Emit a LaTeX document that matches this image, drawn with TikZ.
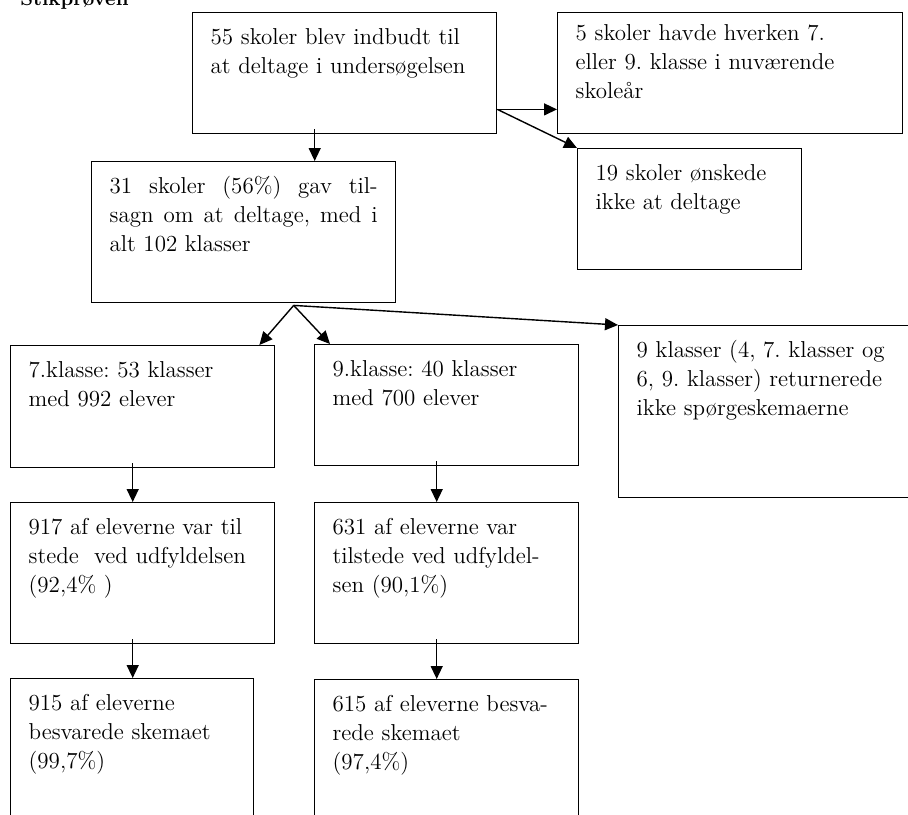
\documentclass[tikz,border=0pt]{standalone}
\usepackage{tikz}
\usetikzlibrary{arrows.meta, calc}
\tikzset{>={Triangle[length=6.5pt, width=6pt]}}
\tikzset{boks/.style 2 args={draw, anchor=north west, align=left, inner xsep=9pt, inner ysep=0pt,
		text width=#1, text height=16pt, text depth=#2}}
\frenchspacing

\begin{document}
\begin{tikzpicture}[x=0.5pt, y=-0.5pt, line width=0.7pt]
		\useasboundingbox (0,0) rectangle (908,814);
		\node[font=\bfseries\fontsize{10}{12}\selectfont, anchor=base west] (titel) at (13,5) {Stikprøven};

		\begin{scope}[every node/.append style={font=\fontsize{11.5}{14.5}\selectfont}]
			\node[boks={134pt}{44.5pt}] (invit) at (192,12) {55 skoler blev indbudt til\\at deltage i undersøgelsen};
			\node[boks={154.5pt}{46.5pt}, text height=14pt] (ingen) at (557,12) {5 skoler havde hverken 7.\\eller 9. klasse i nuværende\\skoleår};
			\node[boks={94pt}{44.5pt}] (afslag) at (577,148) {19 skoler ønskede\\ikke at deltage};
			\node[boks={134pt}{54.5pt}, align=justify] (tilsagn) at (91,161) {31 skoler (56\%) gav til-\linebreak sagn om at deltage, med i\linebreak alt 102 klasser};
			\node[boks={114pt}{45pt}] (kl7) at (10,345) {7.klasse: 53 klasser\\med 992 elever};
			\node[boks={114pt}{44.5pt}] (kl9) at (314,344) {9.klasse: 40 klasser\\med 700 elever};
			\node[boks={132pt}{70pt}] (mangler) at (618,325) {9 klasser (4, 7. klasser og\\6, 9. klasser) returnerede\\ikke spørgeskemaerne};
			\node[boks={114pt}{54.5pt}] (til7) at (10,502) {917 af eleverne var til\\stede\ \ ved udfyldelsen\\(92,4\% )};
			\node[boks={114pt}{54.5pt}] (til9) at (314,502) {631 af eleverne var\\tilstede ved udfyldel-\\sen (90,1\%)};
			\node[boks={103.5pt}{59pt}] (svar7) at (10,678) {915 af eleverne\\besvarede skemaet\\(99,7\%)};
			\node[boks={114pt}{59pt}] (svar9) at (314,679) {615 af eleverne besva-\\rede skemaet\\(97,4\%)};
		\end{scope}

		\draw [->] ([xshift=-15pt, yshift=2.5pt]invit.south) coordinate (p1) -- (p1 |- tilsagn.north);
		\draw [->] ([yshift=12.5pt]invit.south east) coordinate (p2) -- (p2 -| ingen.west);
		\draw [->] (p2) -- (afslag.north west);
		\draw [->] ([xshift=25pt, yshift=-1pt]tilsagn.south) coordinate (p3) -- ([xshift=-8pt]kl7.north east);
		\draw [->] (p3) -- ([xshift=8pt]kl9.north west);
		\draw [->] (p3) -- (mangler.north west);
		\draw [->] ([xshift=-5pt, yshift=2.5pt]kl7.south) coordinate (p4) -- (p4 |- til7.north);
		\draw [->] ([xshift=-5pt, yshift=2.5pt]kl9.south) coordinate (p5) -- (p5 |- til9.north);
		\draw [->] ([xshift=-5pt, yshift=2.5pt]til7.south) coordinate (p6) -- (p6 |- svar7.north);
		\draw [->] ([xshift=-5pt, yshift=2.5pt]til9.south) coordinate (p7) -- (p7 |- svar9.north);
	\end{tikzpicture}
\end{document}
